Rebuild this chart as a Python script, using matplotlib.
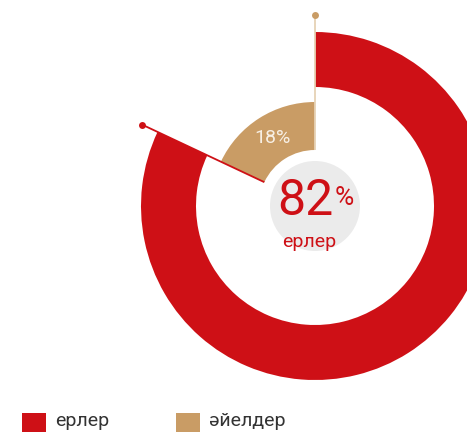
import numpy as np
import matplotlib
matplotlib.use("Agg")
import matplotlib.pyplot as plt
from matplotlib.patches import Wedge, Circle, Rectangle

labels = ["ерлер", "әйелдер"]
shares = [82, 18]
colors = ["#CE1016", "#C99C65"]

plt.rcParams["font.family"] = ["Roboto", "DejaVu Sans"]

W, H = 467, 432
fig = plt.figure(figsize=(W / 100, H / 100), dpi=100)
ax = fig.add_axes([0, 0, 1, 1])
ax.set_xlim(0, W)
ax.set_ylim(0, H)
ax.axis("off")

cx, cy = 315, H - 206
men_deg = 360 * shares[0] / 100
split = 90 - men_deg + 360  # angle where red ends / tan starts

# outer red ring (men), clockwise from 12 o'clock
ax.add_patch(Wedge((cx, cy), 174, 90 - men_deg, 90, width=55,
                   facecolor=colors[0], edgecolor="none"))
# inner tan wedge (women)
ax.add_patch(Wedge((cx, cy), 104, 90, split, width=48,
                   facecolor=colors[1], edgecolor="none"))
# grey centre disc
ax.add_patch(Circle((cx, cy), 45, facecolor="#EBEBEB", edgecolor="none"))

# leader lines with dots
def leader(angle, color, dot):
    a = np.deg2rad(angle)
    r0, r1 = 56, 191
    ax.plot([cx + r0 * np.cos(a), cx + r1 * np.cos(a)],
            [cy + r0 * np.sin(a), cy + r1 * np.sin(a)],
            color=color, lw=1.3, solid_capstyle="butt", zorder=3)
    ax.plot(cx + r1 * np.cos(a), cy + r1 * np.sin(a), "o", ms=5,
            color=dot, mec="none", zorder=4)

leader(90, "#E6D2B5", colors[1])
leader(split, colors[0], colors[0])

# labels
a = np.deg2rad((90 + split) / 2)
ax.text(cx + 80 * np.cos(a), cy + 80 * np.sin(a), f"{shares[1]}%",
        color="#F7EFE4", fontsize=14, ha="center", va="center")
ax.text(cx - 10, cy + 5, f"{shares[0]}", color=colors[0], fontsize=36,
        ha="center", va="center")
ax.text(cx + 29, cy + 8, "%", color=colors[0], fontsize=19,
        ha="center", va="center")
ax.text(cx - 6, cy - 36, labels[0], color=colors[0], fontsize=14,
        ha="center", va="center")

# legend
for x0, lab, col in [(22, labels[0], colors[0]), (176, labels[1], colors[1])]:
    ax.add_patch(Rectangle((x0, 0), 24, 19, facecolor=col, edgecolor="none"))
    ax.text(x0 + 33, 11, lab, color="#333333", fontsize=14,
            ha="left", va="center")

fig.savefig("out.png", dpi=100)
